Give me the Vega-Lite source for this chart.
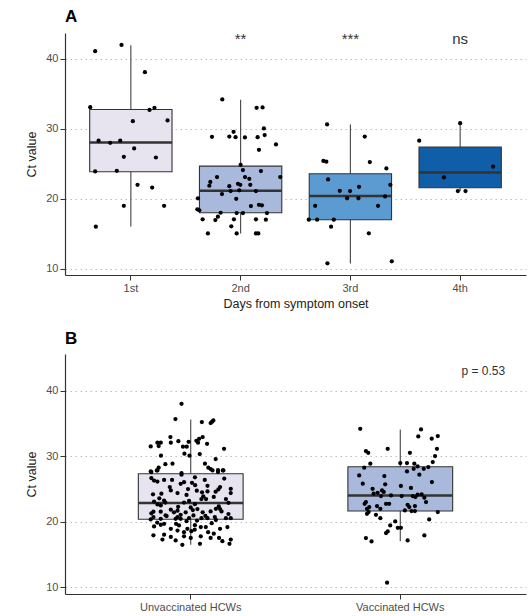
{
  "$schema": "https://vega.github.io/schema/vega-lite/v6.json",
  "background": "white",
  "padding": {"left": 25, "top": 8, "right": 4, "bottom": 0},
  "spacing": 20,
  "config": {
    "font": "Liberation Sans",
    "view": {"stroke": null},
    "axis": {
      "domainColor": "#333333",
      "domainWidth": 1.2,
      "tickColor": "#333333",
      "tickSize": 5,
      "labelColor": "#4D4D4D",
      "labelFontSize": 11,
      "labelPadding": 2,
      "titleFontSize": 12.5,
      "titleFontWeight": "normal",
      "titleColor": "#222222"
    },
    "axisY": {"grid": true, "gridDash": [1.5, 3.5], "gridColor": "#BDBDBD", "gridWidth": 1, "titlePadding": 7},
    "axisX": {"grid": false, "titlePadding": 4},
    "title": {"anchor": "start", "frame": "group", "fontSize": 17, "fontWeight": "bold", "color": "#000000", "offset": 6}
  },
  "datasets": {
    "boxA": [
      {"day": "1st", "lo": 16.05, "q1": 23.86, "median": 28.05, "q3": 32.76, "hi": 41.95},
      {"day": "2nd", "lo": 15.05, "q1": 18.0, "median": 21.14, "q3": 24.67, "hi": 34.15},
      {"day": "3rd", "lo": 10.76, "q1": 17.0, "median": 20.38, "q3": 23.57, "hi": 30.6},
      {"day": "4th", "lo": 21.1, "q1": 21.57, "median": 23.76, "q3": 27.38, "hi": 30.8}
    ],
    "annA": [
      {"day": "2nd", "ypos": 42.1, "label": "**"},
      {"day": "3rd", "ypos": 42.1, "label": "***"},
      {"day": "4th", "ypos": 42.1, "label": "ns"}
    ],
    "ptsA": [
      {"day": "1st", "ct": 41.1, "jitter": -0.325}, {"day": "1st", "ct": 42.0, "jitter": -0.085}, {"day": "1st", "ct": 38.1, "jitter": 0.128},
      {"day": "1st", "ct": 33.1, "jitter": -0.37}, {"day": "1st", "ct": 32.7, "jitter": 0.17}, {"day": "1st", "ct": 33.0, "jitter": 0.215},
      {"day": "1st", "ct": 31.1, "jitter": 0.018}, {"day": "1st", "ct": 31.2, "jitter": 0.334}, {"day": "1st", "ct": 28.3, "jitter": -0.294},
      {"day": "1st", "ct": 28.0, "jitter": -0.188}, {"day": "1st", "ct": 28.3, "jitter": -0.097}, {"day": "1st", "ct": 26.0, "jitter": -0.064},
      {"day": "1st", "ct": 27.2, "jitter": 0.03}, {"day": "1st", "ct": 25.9, "jitter": 0.228}, {"day": "1st", "ct": 23.9, "jitter": -0.325},
      {"day": "1st", "ct": 24.0, "jitter": -0.128}, {"day": "1st", "ct": 22.0, "jitter": 0.061}, {"day": "1st", "ct": 21.6, "jitter": 0.194},
      {"day": "1st", "ct": 19.0, "jitter": -0.064}, {"day": "1st", "ct": 19.0, "jitter": 0.303}, {"day": "1st", "ct": 16.0, "jitter": -0.319},
      {"day": "2nd", "ct": 34.2, "jitter": -0.167}, {"day": "2nd", "ct": 33.0, "jitter": 0.146}, {"day": "2nd", "ct": 33.05, "jitter": 0.2},
      {"day": "2nd", "ct": 30.06, "jitter": 0.212}, {"day": "2nd", "ct": 29.57, "jitter": -0.064}, {"day": "2nd", "ct": 28.86, "jitter": -0.261},
      {"day": "2nd", "ct": 28.9, "jitter": -0.103}, {"day": "2nd", "ct": 28.8, "jitter": -0.046}, {"day": "2nd", "ct": 28.77, "jitter": 0.039},
      {"day": "2nd", "ct": 28.8, "jitter": 0.155}, {"day": "2nd", "ct": 29.1, "jitter": 0.219}, {"day": "2nd", "ct": 27.77, "jitter": 0.322},
      {"day": "2nd", "ct": 27.0, "jitter": 0.167}, {"day": "2nd", "ct": 24.86, "jitter": 0.0}, {"day": "2nd", "ct": 24.1, "jitter": 0.021},
      {"day": "2nd", "ct": 23.96, "jitter": 0.185}, {"day": "2nd", "ct": 23.1, "jitter": -0.215}, {"day": "2nd", "ct": 23.1, "jitter": 0.04},
      {"day": "2nd", "ct": 22.86, "jitter": 0.079}, {"day": "2nd", "ct": 23.1, "jitter": 0.361}, {"day": "2nd", "ct": 22.4, "jitter": -0.276},
      {"day": "2nd", "ct": 21.86, "jitter": -0.285}, {"day": "2nd", "ct": 22.14, "jitter": -0.024}, {"day": "2nd", "ct": 22.0, "jitter": -0.003},
      {"day": "2nd", "ct": 22.0, "jitter": 0.088}, {"day": "2nd", "ct": 21.8, "jitter": -0.103}, {"day": "2nd", "ct": 21.1, "jitter": -0.091},
      {"day": "2nd", "ct": 21.2, "jitter": -0.012}, {"day": "2nd", "ct": 21.1, "jitter": 0.14}, {"day": "2nd", "ct": 20.67, "jitter": -0.17},
      {"day": "2nd", "ct": 20.0, "jitter": -0.04}, {"day": "2nd", "ct": 20.06, "jitter": -0.389}, {"day": "2nd", "ct": 18.5, "jitter": -0.394},
      {"day": "2nd", "ct": 18.34, "jitter": -0.376}, {"day": "2nd", "ct": 18.96, "jitter": 0.094}, {"day": "2nd", "ct": 19.14, "jitter": 0.167},
      {"day": "2nd", "ct": 19.06, "jitter": 0.194}, {"day": "2nd", "ct": 18.0, "jitter": -0.182}, {"day": "2nd", "ct": 17.96, "jitter": -0.036},
      {"day": "2nd", "ct": 17.96, "jitter": 0.021}, {"day": "2nd", "ct": 17.96, "jitter": 0.24}, {"day": "2nd", "ct": 17.43, "jitter": -0.207},
      {"day": "2nd", "ct": 16.96, "jitter": -0.23}, {"day": "2nd", "ct": 17.06, "jitter": -0.346}, {"day": "2nd", "ct": 17.06, "jitter": -0.061},
      {"day": "2nd", "ct": 17.06, "jitter": 0.14}, {"day": "2nd", "ct": 17.0, "jitter": 0.23}, {"day": "2nd", "ct": 16.06, "jitter": -0.085},
      {"day": "2nd", "ct": 15.05, "jitter": -0.298}, {"day": "2nd", "ct": 15.05, "jitter": -0.036}, {"day": "2nd", "ct": 15.05, "jitter": 0.14},
      {"day": "2nd", "ct": 15.05, "jitter": 0.161},
      {"day": "3rd", "ct": 30.63, "jitter": -0.212}, {"day": "3rd", "ct": 28.9, "jitter": 0.131}, {"day": "3rd", "ct": 25.4, "jitter": -0.246},
      {"day": "3rd", "ct": 25.3, "jitter": -0.219}, {"day": "3rd", "ct": 25.24, "jitter": 0.177}, {"day": "3rd", "ct": 24.34, "jitter": 0.328},
      {"day": "3rd", "ct": 22.77, "jitter": -0.203}, {"day": "3rd", "ct": 22.0, "jitter": 0.364}, {"day": "3rd", "ct": 21.71, "jitter": 0.079},
      {"day": "3rd", "ct": 21.14, "jitter": -0.097}, {"day": "3rd", "ct": 21.1, "jitter": -0.003}, {"day": "3rd", "ct": 20.06, "jitter": -0.03},
      {"day": "3rd", "ct": 20.06, "jitter": 0.073}, {"day": "3rd", "ct": 20.34, "jitter": 0.316}, {"day": "3rd", "ct": 19.0, "jitter": -0.321},
      {"day": "3rd", "ct": 19.0, "jitter": 0.252}, {"day": "3rd", "ct": 17.0, "jitter": -0.379}, {"day": "3rd", "ct": 17.0, "jitter": -0.303},
      {"day": "3rd", "ct": 17.0, "jitter": -0.151}, {"day": "3rd", "ct": 16.0, "jitter": -0.176}, {"day": "3rd", "ct": 15.06, "jitter": 0.168},
      {"day": "3rd", "ct": 10.77, "jitter": -0.209}, {"day": "3rd", "ct": 11.06, "jitter": 0.377},
      {"day": "4th", "ct": 30.8, "jitter": 0.0}, {"day": "4th", "ct": 28.3, "jitter": -0.373}, {"day": "4th", "ct": 24.6, "jitter": 0.3},
      {"day": "4th", "ct": 23.06, "jitter": -0.148}, {"day": "4th", "ct": 21.1, "jitter": -0.021}, {"day": "4th", "ct": 21.1, "jitter": 0.049}
    ],
    "boxB": [
      {"group": "Unvaccinated HCWs", "lo": 16.5, "q1": 20.4, "median": 22.87, "q3": 27.34, "hi": 35.63},
      {"group": "Vaccinated HCWs", "lo": 17.05, "q1": 21.65, "median": 24.04, "q3": 28.41, "hi": 34.1}
    ],
    "annB": [
      {"group": "Vaccinated HCWs", "ypos": 43.0, "label": "p = 0.53"}
    ],
    "ptsB": [
      {"group": "Unvaccinated HCWs", "ct": 38.0, "jitter": -0.044}, {"group": "Unvaccinated HCWs", "ct": 35.68, "jitter": -0.073},
      {"group": "Unvaccinated HCWs", "ct": 35.22, "jitter": 0.053}, {"group": "Unvaccinated HCWs", "ct": 35.07, "jitter": 0.095},
      {"group": "Unvaccinated HCWs", "ct": 35.27, "jitter": 0.102}, {"group": "Unvaccinated HCWs", "ct": 35.47, "jitter": 0.108},
      {"group": "Unvaccinated HCWs", "ct": 32.94, "jitter": -0.097}, {"group": "Unvaccinated HCWs", "ct": 32.07, "jitter": -0.159},
      {"group": "Unvaccinated HCWs", "ct": 32.07, "jitter": -0.143}, {"group": "Unvaccinated HCWs", "ct": 32.07, "jitter": -0.095},
      {"group": "Unvaccinated HCWs", "ct": 32.3, "jitter": -0.059}, {"group": "Unvaccinated HCWs", "ct": 32.37, "jitter": 0.027},
      {"group": "Unvaccinated HCWs", "ct": 32.67, "jitter": 0.04}, {"group": "Unvaccinated HCWs", "ct": 32.94, "jitter": 0.057},
      {"group": "Unvaccinated HCWs", "ct": 32.07, "jitter": 0.035}, {"group": "Unvaccinated HCWs", "ct": 31.9, "jitter": 0.078},
      {"group": "Unvaccinated HCWs", "ct": 31.5, "jitter": -0.191}, {"group": "Unvaccinated HCWs", "ct": 31.56, "jitter": -0.153},
      {"group": "Unvaccinated HCWs", "ct": 31.46, "jitter": -0.037}, {"group": "Unvaccinated HCWs", "ct": 31.46, "jitter": -0.019},
      {"group": "Unvaccinated HCWs", "ct": 32.2, "jitter": -0.01}, {"group": "Unvaccinated HCWs", "ct": 31.15, "jitter": 0.159},
      {"group": "Unvaccinated HCWs", "ct": 30.4, "jitter": -0.03}, {"group": "Unvaccinated HCWs", "ct": 30.09, "jitter": -0.006},
      {"group": "Unvaccinated HCWs", "ct": 30.09, "jitter": -0.142}, {"group": "Unvaccinated HCWs", "ct": 30.34, "jitter": 0.043},
      {"group": "Unvaccinated HCWs", "ct": 29.58, "jitter": 0.119}, {"group": "Unvaccinated HCWs", "ct": 27.7, "jitter": -0.191},
      {"group": "Unvaccinated HCWs", "ct": 28.26, "jitter": -0.153}, {"group": "Unvaccinated HCWs", "ct": 27.85, "jitter": -0.159},
      {"group": "Unvaccinated HCWs", "ct": 28.8, "jitter": -0.121}, {"group": "Unvaccinated HCWs", "ct": 28.87, "jitter": -0.087},
      {"group": "Unvaccinated HCWs", "ct": 28.87, "jitter": 0.068}, {"group": "Unvaccinated HCWs", "ct": 28.26, "jitter": 0.084},
      {"group": "Unvaccinated HCWs", "ct": 28.06, "jitter": 0.095}, {"group": "Unvaccinated HCWs", "ct": 27.9, "jitter": 0.13},
      {"group": "Unvaccinated HCWs", "ct": 27.85, "jitter": 0.156}, {"group": "Unvaccinated HCWs", "ct": 27.45, "jitter": -0.044},
      {"group": "Unvaccinated HCWs", "ct": 27.6, "jitter": -0.188}, {"group": "Unvaccinated HCWs", "ct": 27.85, "jitter": -0.162},
      {"group": "Unvaccinated HCWs", "ct": 27.2, "jitter": -0.044}, {"group": "Unvaccinated HCWs", "ct": 27.85, "jitter": 0.104},
      {"group": "Unvaccinated HCWs", "ct": 27.6, "jitter": 0.13}, {"group": "Unvaccinated HCWs", "ct": 27.85, "jitter": 0.153},
      {"group": "Unvaccinated HCWs", "ct": 26.68, "jitter": -0.188}, {"group": "Unvaccinated HCWs", "ct": 26.3, "jitter": -0.175},
      {"group": "Unvaccinated HCWs", "ct": 26.15, "jitter": -0.159}, {"group": "Unvaccinated HCWs", "ct": 26.4, "jitter": -0.127},
      {"group": "Unvaccinated HCWs", "ct": 26.4, "jitter": -0.089}, {"group": "Unvaccinated HCWs", "ct": 25.8, "jitter": -0.048},
      {"group": "Unvaccinated HCWs", "ct": 26.05, "jitter": -0.032}, {"group": "Unvaccinated HCWs", "ct": 25.95, "jitter": 0.006},
      {"group": "Unvaccinated HCWs", "ct": 25.6, "jitter": 0.021}, {"group": "Unvaccinated HCWs", "ct": 26.4, "jitter": 0.067},
      {"group": "Unvaccinated HCWs", "ct": 25.3, "jitter": 0.14}, {"group": "Unvaccinated HCWs", "ct": 25.05, "jitter": 0.191},
      {"group": "Unvaccinated HCWs", "ct": 24.4, "jitter": 0.191}, {"group": "Unvaccinated HCWs", "ct": 24.3, "jitter": -0.14},
      {"group": "Unvaccinated HCWs", "ct": 24.8, "jitter": -0.095}, {"group": "Unvaccinated HCWs", "ct": 24.4, "jitter": -0.063},
      {"group": "Unvaccinated HCWs", "ct": 25.0, "jitter": -0.013}, {"group": "Unvaccinated HCWs", "ct": 24.75, "jitter": 0.029},
      {"group": "Unvaccinated HCWs", "ct": 24.5, "jitter": 0.054}, {"group": "Unvaccinated HCWs", "ct": 24.65, "jitter": 0.08},
      {"group": "Unvaccinated HCWs", "ct": 24.6, "jitter": 0.119}, {"group": "Unvaccinated HCWs", "ct": 24.95, "jitter": 0.132},
      {"group": "Unvaccinated HCWs", "ct": 23.1, "jitter": -0.175}, {"group": "Unvaccinated HCWs", "ct": 22.65, "jitter": -0.159},
      {"group": "Unvaccinated HCWs", "ct": 23.25, "jitter": -0.127}, {"group": "Unvaccinated HCWs", "ct": 22.95, "jitter": -0.121},
      {"group": "Unvaccinated HCWs", "ct": 22.5, "jitter": -0.143}, {"group": "Unvaccinated HCWs", "ct": 22.95, "jitter": -0.032},
      {"group": "Unvaccinated HCWs", "ct": 23.2, "jitter": -0.008}, {"group": "Unvaccinated HCWs", "ct": 23.48, "jitter": 0.051},
      {"group": "Unvaccinated HCWs", "ct": 23.48, "jitter": 0.073}, {"group": "Unvaccinated HCWs", "ct": 23.48, "jitter": 0.168},
      {"group": "Unvaccinated HCWs", "ct": 21.3, "jitter": -0.188}, {"group": "Unvaccinated HCWs", "ct": 21.55, "jitter": -0.178},
      {"group": "Unvaccinated HCWs", "ct": 21.55, "jitter": -0.143}, {"group": "Unvaccinated HCWs", "ct": 21.85, "jitter": -0.095},
      {"group": "Unvaccinated HCWs", "ct": 21.45, "jitter": -0.08}, {"group": "Unvaccinated HCWs", "ct": 21.7, "jitter": -0.063},
      {"group": "Unvaccinated HCWs", "ct": 21.08, "jitter": -0.048}, {"group": "Unvaccinated HCWs", "ct": 21.45, "jitter": -0.024},
      {"group": "Unvaccinated HCWs", "ct": 21.95, "jitter": 0.032}, {"group": "Unvaccinated HCWs", "ct": 21.45, "jitter": 0.057},
      {"group": "Unvaccinated HCWs", "ct": 21.6, "jitter": 0.095}, {"group": "Unvaccinated HCWs", "ct": 21.95, "jitter": 0.14},
      {"group": "Unvaccinated HCWs", "ct": 21.6, "jitter": 0.147}, {"group": "Unvaccinated HCWs", "ct": 22.35, "jitter": 0.134},
      {"group": "Unvaccinated HCWs", "ct": 20.73, "jitter": -0.178}, {"group": "Unvaccinated HCWs", "ct": 20.37, "jitter": -0.191},
      {"group": "Unvaccinated HCWs", "ct": 20.47, "jitter": -0.143}, {"group": "Unvaccinated HCWs", "ct": 20.88, "jitter": -0.115},
      {"group": "Unvaccinated HCWs", "ct": 20.47, "jitter": -0.072}, {"group": "Unvaccinated HCWs", "ct": 20.73, "jitter": -0.063},
      {"group": "Unvaccinated HCWs", "ct": 20.47, "jitter": -0.048}, {"group": "Unvaccinated HCWs", "ct": 20.57, "jitter": -0.008},
      {"group": "Unvaccinated HCWs", "ct": 20.98, "jitter": 0.013}, {"group": "Unvaccinated HCWs", "ct": 20.57, "jitter": 0.051},
      {"group": "Unvaccinated HCWs", "ct": 20.57, "jitter": 0.08}, {"group": "Unvaccinated HCWs", "ct": 20.73, "jitter": 0.115},
      {"group": "Unvaccinated HCWs", "ct": 20.57, "jitter": 0.168}, {"group": "Unvaccinated HCWs", "ct": 20.57, "jitter": 0.191},
      {"group": "Unvaccinated HCWs", "ct": 19.3, "jitter": -0.175}, {"group": "Unvaccinated HCWs", "ct": 19.56, "jitter": -0.143},
      {"group": "Unvaccinated HCWs", "ct": 19.7, "jitter": -0.127}, {"group": "Unvaccinated HCWs", "ct": 19.7, "jitter": -0.07},
      {"group": "Unvaccinated HCWs", "ct": 19.45, "jitter": -0.056}, {"group": "Unvaccinated HCWs", "ct": 18.95, "jitter": -0.016},
      {"group": "Unvaccinated HCWs", "ct": 18.58, "jitter": 0.003}, {"group": "Unvaccinated HCWs", "ct": 18.8, "jitter": 0.019},
      {"group": "Unvaccinated HCWs", "ct": 19.2, "jitter": 0.048}, {"group": "Unvaccinated HCWs", "ct": 19.2, "jitter": 0.072},
      {"group": "Unvaccinated HCWs", "ct": 18.95, "jitter": 0.14}, {"group": "Unvaccinated HCWs", "ct": 19.2, "jitter": 0.175},
      {"group": "Unvaccinated HCWs", "ct": 18.43, "jitter": 0.083}, {"group": "Unvaccinated HCWs", "ct": 18.43, "jitter": -0.032},
      {"group": "Unvaccinated HCWs", "ct": 18.68, "jitter": -0.063}, {"group": "Unvaccinated HCWs", "ct": 18.95, "jitter": -0.095},
      {"group": "Unvaccinated HCWs", "ct": 17.95, "jitter": -0.178}, {"group": "Unvaccinated HCWs", "ct": 18.05, "jitter": -0.127},
      {"group": "Unvaccinated HCWs", "ct": 17.7, "jitter": -0.095}, {"group": "Unvaccinated HCWs", "ct": 17.3, "jitter": -0.135},
      {"group": "Unvaccinated HCWs", "ct": 17.8, "jitter": -0.032}, {"group": "Unvaccinated HCWs", "ct": 17.55, "jitter": 0.0},
      {"group": "Unvaccinated HCWs", "ct": 17.8, "jitter": 0.048}, {"group": "Unvaccinated HCWs", "ct": 17.55, "jitter": 0.095},
      {"group": "Unvaccinated HCWs", "ct": 17.55, "jitter": 0.135}, {"group": "Unvaccinated HCWs", "ct": 17.05, "jitter": 0.151},
      {"group": "Unvaccinated HCWs", "ct": 17.3, "jitter": 0.191}, {"group": "Unvaccinated HCWs", "ct": 17.17, "jitter": -0.072},
      {"group": "Unvaccinated HCWs", "ct": 16.5, "jitter": -0.04}, {"group": "Unvaccinated HCWs", "ct": 16.65, "jitter": 0.044},
      {"group": "Unvaccinated HCWs", "ct": 16.65, "jitter": 0.185},
      {"group": "Unvaccinated HCWs", "ct": 25.3, "jitter": -0.1}, {"group": "Unvaccinated HCWs", "ct": 25.5, "jitter": 0.08},
      {"group": "Unvaccinated HCWs", "ct": 24.1, "jitter": -0.02}, {"group": "Unvaccinated HCWs", "ct": 23.8, "jitter": 0.11},
      {"group": "Unvaccinated HCWs", "ct": 23.6, "jitter": -0.15}, {"group": "Unvaccinated HCWs", "ct": 22.2, "jitter": 0.0},
      {"group": "Unvaccinated HCWs", "ct": 22.7, "jitter": 0.02}, {"group": "Unvaccinated HCWs", "ct": 22.3, "jitter": -0.06},
      {"group": "Unvaccinated HCWs", "ct": 22.0, "jitter": 0.12}, {"group": "Unvaccinated HCWs", "ct": 21.2, "jitter": 0.18},
      {"group": "Unvaccinated HCWs", "ct": 21.0, "jitter": -0.12}, {"group": "Unvaccinated HCWs", "ct": 20.2, "jitter": 0.03},
      {"group": "Unvaccinated HCWs", "ct": 20.1, "jitter": -0.02}, {"group": "Unvaccinated HCWs", "ct": 20.3, "jitter": 0.12},
      {"group": "Unvaccinated HCWs", "ct": 19.9, "jitter": -0.16}, {"group": "Unvaccinated HCWs", "ct": 19.8, "jitter": 0.1},
      {"group": "Unvaccinated HCWs", "ct": 23.9, "jitter": 0.06}, {"group": "Unvaccinated HCWs", "ct": 26.8, "jitter": 0.02},
      {"group": "Unvaccinated HCWs", "ct": 26.6, "jitter": 0.16}, {"group": "Unvaccinated HCWs", "ct": 24.2, "jitter": -0.18},
      {"group": "Unvaccinated HCWs", "ct": 22.9, "jitter": 0.18}, {"group": "Unvaccinated HCWs", "ct": 21.8, "jitter": 0.01},
      {"group": "Unvaccinated HCWs", "ct": 20.9, "jitter": 0.07}, {"group": "Unvaccinated HCWs", "ct": 19.5, "jitter": 0.02},
      {"group": "Unvaccinated HCWs", "ct": 18.2, "jitter": 0.11},
      {"group": "Vaccinated HCWs", "ct": 34.2, "jitter": -0.191}, {"group": "Vaccinated HCWs", "ct": 34.1, "jitter": 0.099},
      {"group": "Vaccinated HCWs", "ct": 33.03, "jitter": 0.086}, {"group": "Vaccinated HCWs", "ct": 32.68, "jitter": 0.15},
      {"group": "Vaccinated HCWs", "ct": 33.09, "jitter": 0.179}, {"group": "Vaccinated HCWs", "ct": 31.15, "jitter": 0.175},
      {"group": "Vaccinated HCWs", "ct": 30.8, "jitter": -0.164}, {"group": "Vaccinated HCWs", "ct": 30.54, "jitter": -0.153},
      {"group": "Vaccinated HCWs", "ct": 31.15, "jitter": -0.06}, {"group": "Vaccinated HCWs", "ct": 30.54, "jitter": 0.046},
      {"group": "Vaccinated HCWs", "ct": 30.04, "jitter": 0.166}, {"group": "Vaccinated HCWs", "ct": 29.12, "jitter": 0.155},
      {"group": "Vaccinated HCWs", "ct": 28.87, "jitter": -0.143}, {"group": "Vaccinated HCWs", "ct": 28.26, "jitter": -0.172},
      {"group": "Vaccinated HCWs", "ct": 28.97, "jitter": 0.0}, {"group": "Vaccinated HCWs", "ct": 28.97, "jitter": 0.032},
      {"group": "Vaccinated HCWs", "ct": 28.87, "jitter": 0.067}, {"group": "Vaccinated HCWs", "ct": 28.46, "jitter": 0.083},
      {"group": "Vaccinated HCWs", "ct": 28.1, "jitter": 0.112}, {"group": "Vaccinated HCWs", "ct": 28.36, "jitter": 0.134},
      {"group": "Vaccinated HCWs", "ct": 28.1, "jitter": 0.064}, {"group": "Vaccinated HCWs", "ct": 27.69, "jitter": 0.032},
      {"group": "Vaccinated HCWs", "ct": 27.19, "jitter": 0.091}, {"group": "Vaccinated HCWs", "ct": 27.08, "jitter": -0.196},
      {"group": "Vaccinated HCWs", "ct": 26.99, "jitter": -0.076}, {"group": "Vaccinated HCWs", "ct": 25.82, "jitter": -0.179},
      {"group": "Vaccinated HCWs", "ct": 25.05, "jitter": -0.132}, {"group": "Vaccinated HCWs", "ct": 25.72, "jitter": -0.072},
      {"group": "Vaccinated HCWs", "ct": 24.8, "jitter": -0.087}, {"group": "Vaccinated HCWs", "ct": 24.56, "jitter": -0.079},
      {"group": "Vaccinated HCWs", "ct": 25.48, "jitter": 0.003}, {"group": "Vaccinated HCWs", "ct": 25.18, "jitter": 0.051},
      {"group": "Vaccinated HCWs", "ct": 26.07, "jitter": 0.151}, {"group": "Vaccinated HCWs", "ct": 24.29, "jitter": -0.127},
      {"group": "Vaccinated HCWs", "ct": 24.44, "jitter": -0.108}, {"group": "Vaccinated HCWs", "ct": 23.94, "jitter": -0.092},
      {"group": "Vaccinated HCWs", "ct": 24.03, "jitter": -0.044}, {"group": "Vaccinated HCWs", "ct": 23.94, "jitter": 0.007},
      {"group": "Vaccinated HCWs", "ct": 23.94, "jitter": 0.059}, {"group": "Vaccinated HCWs", "ct": 24.14, "jitter": 0.083},
      {"group": "Vaccinated HCWs", "ct": 24.18, "jitter": 0.102}, {"group": "Vaccinated HCWs", "ct": 23.68, "jitter": 0.115},
      {"group": "Vaccinated HCWs", "ct": 23.79, "jitter": 0.072}, {"group": "Vaccinated HCWs", "ct": 23.02, "jitter": -0.164},
      {"group": "Vaccinated HCWs", "ct": 22.26, "jitter": -0.148}, {"group": "Vaccinated HCWs", "ct": 22.41, "jitter": -0.111},
      {"group": "Vaccinated HCWs", "ct": 22.76, "jitter": -0.068}, {"group": "Vaccinated HCWs", "ct": 22.76, "jitter": -0.053},
      {"group": "Vaccinated HCWs", "ct": 22.61, "jitter": 0.035}, {"group": "Vaccinated HCWs", "ct": 22.41, "jitter": 0.07},
      {"group": "Vaccinated HCWs", "ct": 22.26, "jitter": 0.043}, {"group": "Vaccinated HCWs", "ct": 22.76, "jitter": -0.17},
      {"group": "Vaccinated HCWs", "ct": 22.0, "jitter": -0.159}, {"group": "Vaccinated HCWs", "ct": 21.23, "jitter": -0.159},
      {"group": "Vaccinated HCWs", "ct": 21.49, "jitter": -0.151}, {"group": "Vaccinated HCWs", "ct": 22.0, "jitter": -0.095},
      {"group": "Vaccinated HCWs", "ct": 21.74, "jitter": 0.022}, {"group": "Vaccinated HCWs", "ct": 21.65, "jitter": 0.054},
      {"group": "Vaccinated HCWs", "ct": 21.65, "jitter": 0.07}, {"group": "Vaccinated HCWs", "ct": 23.02, "jitter": 0.123},
      {"group": "Vaccinated HCWs", "ct": 21.49, "jitter": 0.179}, {"group": "Vaccinated HCWs", "ct": 21.08, "jitter": -0.116},
      {"group": "Vaccinated HCWs", "ct": 20.57, "jitter": -0.095}, {"group": "Vaccinated HCWs", "ct": 19.45, "jitter": -0.048},
      {"group": "Vaccinated HCWs", "ct": 20.06, "jitter": -0.024}, {"group": "Vaccinated HCWs", "ct": 19.1, "jitter": -0.012},
      {"group": "Vaccinated HCWs", "ct": 19.1, "jitter": 0.003}, {"group": "Vaccinated HCWs", "ct": 18.29, "jitter": -0.068},
      {"group": "Vaccinated HCWs", "ct": 18.54, "jitter": -0.06}, {"group": "Vaccinated HCWs", "ct": 17.17, "jitter": 0.035},
      {"group": "Vaccinated HCWs", "ct": 17.93, "jitter": 0.115}, {"group": "Vaccinated HCWs", "ct": 20.37, "jitter": 0.138},
      {"group": "Vaccinated HCWs", "ct": 17.53, "jitter": -0.164}, {"group": "Vaccinated HCWs", "ct": 17.02, "jitter": -0.137},
      {"group": "Vaccinated HCWs", "ct": 10.72, "jitter": -0.063}
    ]
  },
  "vconcat": [
    {
      "title": {"text": "A"},
      "width": 461,
      "height": 242,
      "encoding": {
        "x": {
          "field": "day", "type": "nominal", "sort": ["1st", "2nd", "3rd", "4th"],
          "scale": {"type": "band", "paddingInner": 0, "paddingOuter": 0.1},
          "axis": {"title": "Days from symptom onset", "labelAngle": 0, "bandPosition": 0.5}
        }
      },
      "resolve": {"scale": {"xOffset": "independent"}},
      "layer": [
        {
          "data": {"name": "boxA"},
          "mark": {"type": "rule", "color": "#444444", "strokeWidth": 1.1},
          "encoding": {
            "y": {"field": "lo", "type": "quantitative", "scale": {"domain": [9.1, 43.7], "nice": false, "zero": false}, "axis": {"title": "Ct value", "values": [10, 20, 30, 40]}},
            "y2": {"field": "hi"}
          }
        },
        {
          "data": {"name": "boxA"},
          "mark": {"type": "bar", "width": {"band": 0.75}, "stroke": "#333333", "strokeWidth": 1.1},
          "encoding": {
            "y": {"field": "q1", "type": "quantitative"},
            "y2": {"field": "q3"},
            "fill": {"field": "day", "type": "nominal", "scale": {"domain": ["1st", "2nd", "3rd", "4th"], "range": ["#E7E4F0", "#A9B9DC", "#5B9BD2", "#0F5EA7"]}, "legend": null}
          }
        },
        {
          "data": {"name": "boxA"},
          "mark": {"type": "tick", "color": "#333333", "thickness": 2.5, "size": 82.4, "opacity": 1},
          "encoding": {"y": {"field": "median", "type": "quantitative"}}
        },
        {
          "data": {"name": "ptsA"},
          "mark": {"type": "circle", "size": 18, "color": "#000000", "opacity": 1},
          "encoding": {
            "y": {"field": "ct", "type": "quantitative"},
            "xOffset": {"field": "jitter", "type": "quantitative", "scale": {"domain": [-0.5, 0.5]}}
          }
        },
        {
          "data": {"name": "annA"},
          "mark": {"type": "text", "fontSize": 15, "color": "#333333", "baseline": "alphabetic"},
          "encoding": {"y": {"field": "ypos", "type": "quantitative"}, "text": {"field": "label"}}
        }
      ]
    },
    {
      "title": {"text": "B"},
      "width": 461,
      "height": 240,
      "encoding": {
        "x": {
          "field": "group", "type": "nominal", "sort": ["Unvaccinated HCWs", "Vaccinated HCWs"],
          "scale": {"type": "band", "paddingInner": 0, "paddingOuter": 0.1},
          "axis": {"title": null, "labelAngle": 0, "bandPosition": 0.5}
        }
      },
      "resolve": {"scale": {"xOffset": "independent"}},
      "layer": [
        {
          "data": {"name": "boxB"},
          "mark": {"type": "rule", "color": "#444444", "strokeWidth": 1.1},
          "encoding": {
            "y": {"field": "lo", "type": "quantitative", "scale": {"domain": [9.0, 45.6], "nice": false, "zero": false}, "axis": {"title": "Ct value", "values": [10, 20, 30, 40]}},
            "y2": {"field": "hi"}
          }
        },
        {
          "data": {"name": "boxB"},
          "mark": {"type": "bar", "width": {"band": 0.5}, "stroke": "#333333", "strokeWidth": 1.1},
          "encoding": {
            "y": {"field": "q1", "type": "quantitative"},
            "y2": {"field": "q3"},
            "fill": {"field": "group", "type": "nominal", "scale": {"domain": ["Unvaccinated HCWs", "Vaccinated HCWs"], "range": ["#E7E4F0", "#93AAD4"]}, "legend": null}
          }
        },
        {
          "data": {"name": "boxB"},
          "mark": {"type": "tick", "color": "#333333", "thickness": 2.5, "size": 104.7, "opacity": 1},
          "encoding": {"y": {"field": "median", "type": "quantitative"}}
        },
        {
          "data": {"name": "ptsB"},
          "mark": {"type": "circle", "size": 18, "color": "#000000", "opacity": 1},
          "encoding": {
            "y": {"field": "ct", "type": "quantitative"},
            "xOffset": {"field": "jitter", "type": "quantitative", "scale": {"domain": [-0.5, 0.5]}}
          }
        },
        {
          "data": {"name": "annB"},
          "mark": {"type": "text", "fontSize": 12, "color": "#333333", "baseline": "middle", "dx": 83},
          "encoding": {"y": {"field": "ypos", "type": "quantitative"}, "text": {"field": "label"}}
        }
      ]
    }
  ]
}
